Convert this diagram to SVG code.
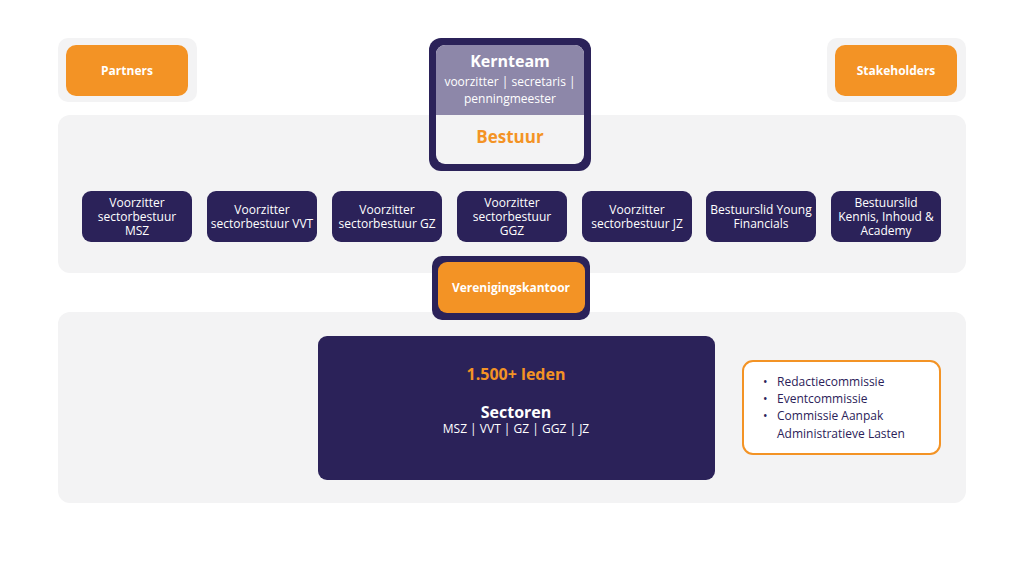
<svg xmlns="http://www.w3.org/2000/svg" width="1024" height="576" viewBox="0 0 1024 576">
<style>
text{font-family:"Open Sans","Liberation Sans",sans-serif;text-anchor:middle}
.band{fill:#f3f3f4}
.org{fill:#f39325}
.dk{fill:#2b2259}
.n{fill:#fff;font-size:12px}
.b{fill:#fff;font-size:12px;font-weight:bold}
</style>
<rect width="1024" height="576" fill="#fff"/>
<rect class="band" x="58" y="115" width="908" height="158" rx="12"/>
<rect class="band" x="58" y="312" width="908" height="191" rx="12"/>
<g id="partners"><rect class="band" x="58" y="38" width="139" height="64" rx="10"/><rect class="org" x="66" y="45" width="122" height="51" rx="10"/><text class="b" x="127" y="75">Partners</text></g>
<g id="stakeholders"><rect class="band" x="827" y="38" width="139" height="64" rx="10"/><rect class="org" x="835" y="45" width="122" height="51" rx="10"/><text class="b" x="896" y="75">Stakeholders</text></g>
<g id="kernteam"><rect class="dk" x="429" y="38" width="162" height="133" rx="12"/><rect x="436" y="45" width="148" height="119" rx="9" fill="#f3f3f4"/><path d="M445 45h130a9 9 0 0 1 9 9v61h-148v-61a9 9 0 0 1 9-9z" fill="#8d87a9"/>
<text x="510" y="67" fill="#fff" font-size="16" font-weight="bold">Kernteam</text><text x="510" y="86" fill="#fff" font-size="12">voorzitter | secretaris |</text><text x="510" y="103" fill="#fff" font-size="12">penningmeester</text>
<text x="510" y="143" fill="#f39325" font-size="17" font-weight="bold">Bestuur</text></g>
<g id="msz"><rect class="dk" x="82" y="191" width="110" height="51" rx="9"/><text class="n" x="137" y="207">Voorzitter</text><text class="n" x="137" y="221">sectorbestuur</text><text class="n" x="137" y="235">MSZ</text></g>
<g id="vvt"><rect class="dk" x="207" y="191" width="110" height="51" rx="9"/><text class="n" x="262" y="214">Voorzitter</text><text class="n" x="262" y="228">sectorbestuur VVT</text></g>
<g id="gz"><rect class="dk" x="332" y="191" width="110" height="51" rx="9"/><text class="n" x="387" y="214">Voorzitter</text><text class="n" x="387" y="228">sectorbestuur GZ</text></g>
<g id="ggz"><rect class="dk" x="457" y="191" width="110" height="51" rx="9"/><text class="n" x="512" y="207">Voorzitter</text><text class="n" x="512" y="221">sectorbestuur</text><text class="n" x="512" y="235">GGZ</text></g>
<g id="jz"><rect class="dk" x="582" y="191" width="110" height="51" rx="9"/><text class="n" x="637" y="214">Voorzitter</text><text class="n" x="637" y="228">sectorbestuur JZ</text></g>
<g id="young"><rect class="dk" x="706" y="191" width="110" height="51" rx="9"/><text class="n" x="761" y="214">Bestuurslid Young</text><text class="n" x="761" y="228">Financials</text></g>
<g id="kennis"><rect class="dk" x="831" y="191" width="110" height="51" rx="9"/><text class="n" x="886" y="207">Bestuurslid</text><text class="n" x="886" y="221">Kennis, Inhoud &amp;</text><text class="n" x="886" y="235">Academy</text></g>
<g id="kantoor"><rect class="dk" x="432" y="256" width="158" height="64" rx="10"/><rect class="org" x="438" y="262" width="147" height="51" rx="9"/><text class="b" x="511" y="292">Verenigingskantoor</text></g>
<g id="sectoren"><rect class="dk" x="318" y="336" width="397" height="144" rx="9"/><text x="516" y="380" fill="#f39325" font-size="16" font-weight="bold">1.500+ leden</text><text x="516" y="418" fill="#fff" font-size="16" font-weight="bold">Sectoren</text><text class="n" x="516" y="433">MSZ | VVT | GZ | GGZ | JZ</text></g>
<g id="commissies"><rect x="743" y="361" width="197" height="93" rx="10" fill="#fff" stroke="#f39325" stroke-width="2"/>
<g fill="#2b2259" font-size="12" style="text-anchor:start"><text x="763" y="386" style="text-anchor:start">•</text><text x="777" y="386" style="text-anchor:start">Redactiecommissie</text><text x="763" y="403" style="text-anchor:start">•</text><text x="777" y="403" style="text-anchor:start">Eventcommissie</text><text x="763" y="420" style="text-anchor:start">•</text><text x="777" y="420" style="text-anchor:start">Commissie Aanpak</text><text x="777" y="438" style="text-anchor:start">Administratieve Lasten</text></g></g>
<g id="connectors"/>
</svg>
